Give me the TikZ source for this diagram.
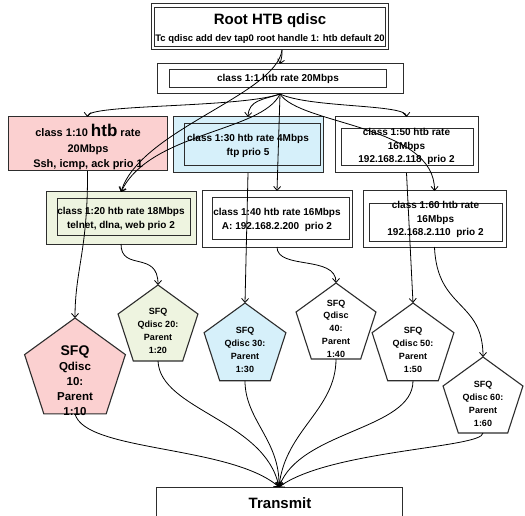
\documentclass[tikz,border=0pt]{standalone}
\usepackage{fontspec}
\setmainfont{Liberation Sans}
\usetikzlibrary{arrows.meta,shapes.geometric}
\definecolor{pinkf}{RGB}{251,208,208}
\definecolor{bluef}{RGB}{214,240,250}
\definecolor{greenf}{RGB}{238,244,224}
\definecolor{edgec}{RGB}{45,45,45}
\begin{document}
\begin{tikzpicture}[x=1pt,y=-1pt,
  box/.style={draw=edgec,line width=1pt,rectangle,inner sep=0pt,outer sep=0pt},
  txt/.style={inner sep=0pt,align=center,font=\bfseries\fontsize{10}{13.5}\selectfont},
  ptxt/.style={inner sep=0pt,align=center,font=\bfseries\fontsize{9}{13}\selectfont},
  pent/.style={draw=edgec,line width=1.1pt,regular polygon,regular polygon sides=5,inner sep=0pt,outer sep=0pt},
  conn/.style={draw=black,line width=0.8pt,-{Straight Barb[length=4pt,width=7pt]}},
  plainline/.style={draw=black,line width=0.8pt}
]
\useasboundingbox (0,0) rectangle (525,516);
\clip (0,0) rectangle (525,516);
\fill[white] (0,0) rectangle (525,516);

% Root
\node[box,minimum width=237pt,minimum height=46pt] (rootout) at (269.5,27) {};
\node[box,minimum width=231pt,minimum height=39pt] (rootin) at (269.5,27.5) {};
\node[txt,font=\bfseries\fontsize{15}{18}\selectfont] (roott) at (270,21) {Root HTB qdisc};
\node[txt,font=\bfseries\fontsize{9.5}{12}\selectfont] (rootc) at (270,39) {Tc qdisc add dev tap0 root handle 1: htb default 20};

% class 1:1
\node[box,minimum width=246pt,minimum height=30pt] (c11) at (280,79) {};
\node[box,minimum width=217pt,minimum height=18pt] (c11in) at (277.5,79) {};
\node[txt] (c11t) at (278,79) {class 1:1 htb rate 20Mbps};

% level 2
\node[box,fill=pinkf,minimum width=159pt,minimum height=54pt] (b10) at (87.5,144) {};
\node[txt,font=\bfseries\fontsize{11}{15.5}\selectfont] (b10t) at (88,147) {class 1:10 {\fontsize{17}{17}\selectfont htb} rate\\20Mbps\\Ssh, icmp, ack prio 1};

\node[box,fill=bluef,minimum width=150pt,minimum height=56pt] (b30) at (248,145) {};
\node[box,minimum width=136pt,minimum height=42pt] (b30in) at (252,145) {};
\node[txt] (b30t) at (248,146) {class 1:30 htb rate 4Mbps\\ftp prio 5};

\node[box,minimum width=143pt,minimum height=56pt] (b50) at (406.5,145) {};
\node[box,minimum width=132pt,minimum height=37pt] (b50in) at (407,147.5) {};
\node[txt] (b50t) at (406.5,146.5) {class 1:50 htb rate\\16Mbps\\192.168.2.118\ \ prio 2};

% level 3
\node[box,fill=greenf,minimum width=150pt,minimum height=52pt] (b20) at (121,218) {};
\node[box,minimum width=133pt,minimum height=37pt] (b20in) at (123.5,216.5) {};
\node[txt] (b20t) at (121,219) {class 1:20 htb rate 18Mbps\\telnet, dlna, web prio 2};

\node[box,minimum width=150pt,minimum height=56pt] (b40) at (277,219) {};
\node[box,minimum width=137pt,minimum height=42pt] (b40in) at (280.5,218) {};
\node[txt] (b40t) at (277,220) {class 1:40 htb rate 16Mbps\\A: 192.168.2.200\ \ prio 2};

\node[box,minimum width=143pt,minimum height=56pt] (b60) at (434.5,219) {};
\node[box,minimum width=133pt,minimum height=38pt] (b60in) at (435.5,222) {};
\node[txt] (b60t) at (435.5,219.5) {class 1:60 htb rate\\16Mbps\\192.168.2.110\ \ prio 2};

% pentagons
\node[pent,fill=pinkf,minimum size=106pt] (p10) at (75,371) {};
\node[txt,font=\bfseries\fontsize{11.5}{15}\selectfont] (p10t) at (75,381) {{\fontsize{14}{16}\selectfont SFQ}\\Qdisc\\10:\\Parent\\1:10};
\node[pent,fill=greenf,minimum size=84pt] (p20) at (158,327) {};
\node[ptxt] (p20t) at (158,330.5) {SFQ\\Qdisc 20:\\Parent\\1:20};
\node[pent,fill=bluef,minimum size=86pt] (p30) at (245,346) {};
\node[ptxt] (p30t) at (245,350) {SFQ\\Qdisc 30:\\Parent\\1:30};
\node[pent,fill=white,minimum size=84pt] (p40) at (336,325) {};
\node[ptxt,font=\bfseries\fontsize{9}{12.75}\selectfont] (p40t) at (336,328.5) {SFQ\\Qdisc\\40:\\Parent\\1:40};
\node[pent,fill=white,minimum size=86pt] (p50) at (413,346) {};
\node[ptxt] (p50t) at (413,350) {SFQ\\Qdisc 50:\\Parent\\1:50};
\node[pent,fill=white,minimum size=84pt] (p60) at (483,399) {};
\node[ptxt] (p60t) at (483,403.5) {SFQ\\Qdisc 60:\\Parent\\1:60};

% Transmit
\node[box,minimum width=246pt,minimum height=43pt] (tx) at (279,508.5) {};
\node[txt,font=\bfseries\fontsize{15}{18}\selectfont] (txt) at (280,503) {Transmit};

% connectors from root
\coordinate (rs) at ([xshift=12.5pt]rootout.south);
\draw[conn] (rs) .. controls (282,56) .. (c11.north);
\draw[conn] (rs) .. controls (276,95) and (140,130) .. (b20.north);

% fan from class 1:1
\draw[conn] (c11.south) .. controls (240,108) and (88,104) .. (b10.north);
\draw[conn] (c11.south) .. controls (262,100) and (249,100) .. (b30.north);
\draw[conn] (c11.south) .. controls (262,132) and (150,132) .. (b20.north);
\draw[conn] (c11.south) -- (b40.north);
\draw[conn] (c11.south) .. controls (310,108) and (406,104) .. (b50.north);
\draw[conn] (c11.south) .. controls (300,125) and (435,125) .. (b60.north);

% classes to pentagons
\draw[conn] (b10.south) .. controls (88,250) and (75,270) .. (p10.corner 1);
\draw[conn] (b20.south) .. controls (121,272) and (158,250) .. (p20.corner 1);
\draw[conn] (b30.south) -- (p30.corner 1);
\draw[conn] (b40.south) .. controls (277,270) and (336,255) .. (p40.corner 1);
\draw[conn] (b50.south) -- (p50.corner 1);
\draw[conn] (b60.south) .. controls (437,310) and (483,300) .. (p60.corner 1);

% pentagons to transmit
\draw[conn] (p10.side 3) .. controls (85,452) and (230,445) .. (tx.north);
\draw[conn] (p20.side 3) .. controls (160,410) and (265,420) .. (tx.north);
\draw[conn] (p30.side 3) .. controls (245,420) and (280,440) .. (tx.north);
\draw[conn] (p40.side 3) .. controls (336,410) and (285,430) .. (tx.north);
\draw[conn] (p50.side 3) .. controls (413,430) and (300,430) .. (tx.north);
\draw[conn] (p60.side 3) .. controls (483,448) and (330,450) .. (tx.north);
\end{tikzpicture}
\end{document}
